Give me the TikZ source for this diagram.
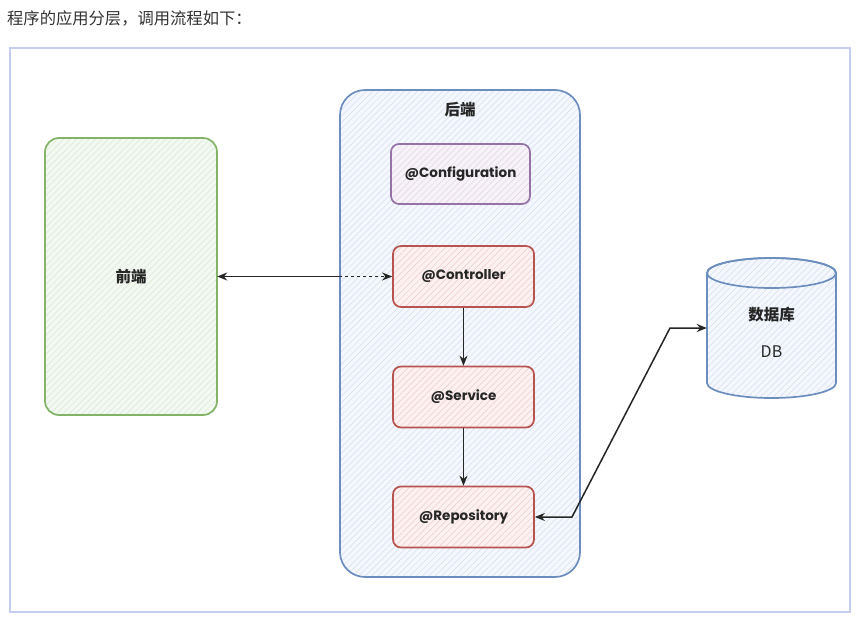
\documentclass[tikz,border=0pt]{standalone}
\usepackage{fontspec}
\setmainfont{Noto Sans CJK SC}
\newfontfamily\latinlab{Poppins}
\usetikzlibrary{patterns.meta,arrows.meta}
\definecolor{gstroke}{HTML}{82B366}
\definecolor{gfill}{HTML}{D5E8D4}
\definecolor{bstroke}{HTML}{6C8EBF}
\definecolor{bfill}{HTML}{DAE8FC}
\definecolor{pstroke}{HTML}{9673A6}
\definecolor{pfill}{HTML}{E1D5E7}
\definecolor{rstroke}{HTML}{B85450}
\definecolor{rfill}{HTML}{F8CECC}
\definecolor{frame}{HTML}{C5CDF0}
\definecolor{titlec}{HTML}{333333}
\tikzset{
  hatch/.style n args={2}{draw=#1, line width=1.7pt,
    preaction={fill=#2!30},
    pattern={Lines[angle=45,distance=4.5pt,line width=0.5pt]}, pattern color=#1!30},
  box/.style={rectangle, rounded corners=8pt, font=\latinlab\bfseries\fontsize{13.5}{16}\selectfont, text=black!85},
  redbox/.style={box, hatch={rstroke}{rfill}, minimum width=141pt, minimum height=61pt},
  arr/.style={line width=1.5pt, draw=black!85, -{Stealth[open,length=10pt,width=8pt]}},
  darr/.style={line width=1.5pt, draw=black!85, {Stealth[open,length=10pt,width=8pt]}-{Stealth[open,length=10pt,width=8pt]}},
  cjklab/.style={font=\bfseries\fontsize{15.5}{18}\selectfont, text=black!85},
}
\begin{document}
\begin{tikzpicture}[x=1pt,y=-1pt]
\useasboundingbox (0,0) rectangle (857,623);
\fill[white] (0,0) rectangle (857,623);
\node[anchor=west, font=\fontsize{16.3}{19}\selectfont, text=titlec, inner sep=0pt] (title) at (7,18) {程序的应用分层，调用流程如下：};
\draw[frame, line width=1.4pt] (10,48) rectangle (850,612);

\node[rectangle, rounded corners=14pt, hatch={gstroke}{gfill}, minimum width=172pt, minimum height=277pt, cjklab] (fe) at (131,276.5) {前端};
\node[rectangle, rounded corners=25pt, hatch={bstroke}{bfill}, minimum width=240pt, minimum height=487pt] (be) at (460,333.5) {};
\node[cjklab, anchor=center] (belab) at (460,110) {后端};
\node[box, hatch={pstroke}{pfill}, minimum width=139pt, minimum height=60pt] (cfg) at (460.5,174) {@Configuration};
\node[redbox] (ctrl) at (463.5,276.5) {@Controller};
\node[redbox] (svc) at (463.5,397) {@Service};
\node[redbox] (repo) at (463.5,517) {@Repository};

% database cylinder
\node[rectangle, minimum width=129pt, minimum height=140pt, inner sep=0pt] (db) at (771.5,328) {};
\path[hatch={bstroke}{bfill}] (707,273) -- (707,383) arc[start angle=180,end angle=360,x radius=64.5pt,y radius=15pt] -- (836,273) arc[start angle=0,end angle=180,x radius=64.5pt,y radius=15pt] -- cycle;
\draw[bstroke, line width=1.7pt] (771.5,273) ellipse [x radius=64.5pt, y radius=15pt];
\node[cjklab] (dblab) at (771.5,315) {数据库};
\node[font=\fontsize{16}{18}\selectfont, text=black!85] (dbtxt) at (771.5,352) {DB};

% connectors
\coordinate (mid) at (be.west |- ctrl.west);
\draw[line width=1.5pt, draw=black!85, {Stealth[open,length=10pt,width=8pt]}-] (fe.east |- ctrl.west) -- (mid);
\draw[arr, dashed] (mid) -- (ctrl.west);
\draw[arr] (ctrl) -- (svc);
\draw[arr] (svc) -- (repo);
\coordinate (c1) at (572,517);
\coordinate (c2) at (670, 328);
\draw[darr] (repo.east) -- (c1) -- (c2) -- (db.west);
\end{tikzpicture}
\end{document}
